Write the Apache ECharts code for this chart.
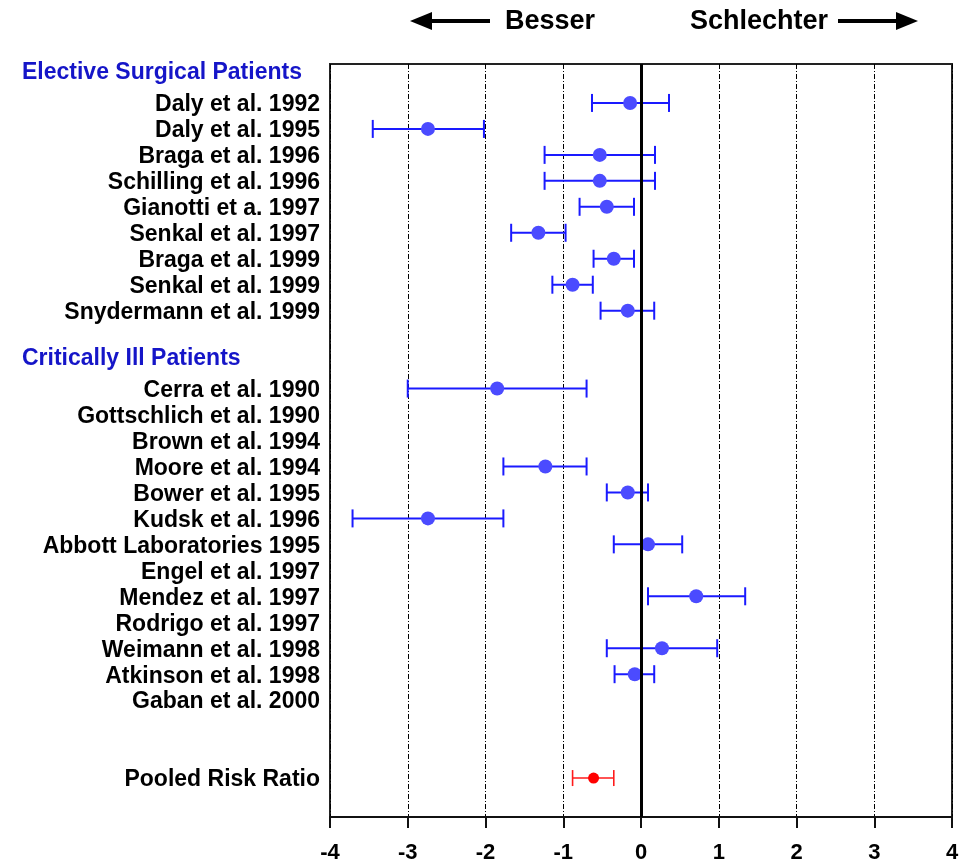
<!DOCTYPE html>
<html>
<head>
<meta charset="utf-8">
<script src="https://cdn.jsdelivr.net/npm/echarts@6/dist/echarts.min.js"></script>
<style>
  html, body { margin: 0; padding: 0; background: #ffffff; }
  #chart { width: 963px; height: 864px; }
</style>
</head>
<body>
<div id="chart"></div>
<script>
// Forest plot rows, top to bottom (blank strings are spacer rows)
const rowLabels = [
  'Elective Surgical Patients',
  'Daly et al. 1992', 'Daly et al. 1995', 'Braga et al. 1996', 'Schilling et al. 1996',
  'Gianotti et a. 1997', 'Senkal et al. 1997', 'Braga et al. 1999', 'Senkal et al. 1999',
  'Snydermann et al. 1999',
  '',
  'Critically Ill Patients',
  'Cerra et al. 1990', 'Gottschlich et al. 1990', 'Brown et al. 1994', 'Moore et al. 1994',
  'Bower et al. 1995', 'Kudsk et al. 1996', 'Abbott Laboratories 1995', 'Engel et al. 1997',
  'Mendez et al. 1997', 'Rodrigo et al. 1997', 'Weimann et al. 1998', 'Atkinson et al. 1998',
  'Gaban et al. 2000',
  '', '',
  'Pooled Risk Ratio',
  ''
];
const groupHeaders = ['Elective Surgical Patients', 'Critically Ill Patients'];

// Per-row log risk ratio and confidence limits (null = no estimate shown)
const studyEstimate = [
  null,
  -0.14, -2.74, -0.53, -0.53, -0.44, -1.32, -0.35, -0.88, -0.17,
  null, null,
  -1.85, null, null, -1.23, -0.17, -2.74, 0.09, null, 0.71, null, 0.27, -0.08, null,
  null, null, null, null
];
const studyLower = [
  null,
  -0.63, -3.45, -1.24, -1.24, -0.79, -1.67, -0.61, -1.14, -0.52,
  null, null,
  -3.00, null, null, -1.77, -0.44, -3.71, -0.35, null, 0.09, null, -0.44, -0.34, null,
  null, null, null, null
];
const studyUpper = [
  null,
  0.36, -2.02, 0.18, 0.18, -0.09, -0.97, -0.09, -0.62, 0.17,
  null, null,
  -0.70, null, null, -0.70, 0.09, -1.77, 0.53, null, 1.34, null, 0.98, 0.17, null,
  null, null, null, null
];

// Pooled estimate
const pooledRow = 'Pooled Risk Ratio';
const pooledEstimate = -0.61;
const pooledLower = -0.88;
const pooledUpper = -0.35;

// Axis ticks
const xTicks = [-4, -3, -2, -1, 0, 1, 2, 3, 4];

const studyBars = [];
const studyPoints = [];
rowLabels.forEach(function (name, i) {
  if (studyEstimate[i] !== null) {
    studyBars.push([studyLower[i], studyUpper[i], i]);
    studyPoints.push([studyEstimate[i], i]);
  }
});
const pooledIndex = rowLabels.indexOf(pooledRow);
const pooledBars = [[pooledLower, pooledUpper, pooledIndex]];
const pooledPoints = [[pooledEstimate, pooledIndex]];

function errorBar(color, width, cap) {
  return function (params, api) {
    const a = api.coord([api.value(0), api.value(2)]);
    const b = api.coord([api.value(1), api.value(2)]);
    const style = { stroke: color, lineWidth: width };
    return {
      type: 'group',
      children: [
        { type: 'line', shape: { x1: a[0], y1: a[1], x2: b[0], y2: b[1] }, style: style },
        { type: 'line', shape: { x1: a[0], y1: a[1] - cap, x2: a[0], y2: a[1] + cap }, style: style },
        { type: 'line', shape: { x1: b[0], y1: b[1] - cap, x2: b[0], y2: b[1] + cap }, style: style }
      ]
    };
  };
}

const FONT = 'Liberation Sans, Arial, Helvetica, sans-serif';
const chart = echarts.init(document.getElementById('chart'), null, { renderer: 'canvas' });

chart.setOption({
  animation: false,
  backgroundColor: '#ffffff',
  grid: {
    left: 330, right: 11, top: 64, bottom: 46,
    show: true, borderColor: '#222222', borderWidth: 2, backgroundColor: 'transparent'
  },
  xAxis: {
    type: 'value',
    min: xTicks[0], max: xTicks[xTicks.length - 1], interval: 1,
    axisLine: { show: true, onZero: false, lineStyle: { color: '#111111', width: 2 } },
    axisTick: { show: true, length: 11, lineStyle: { color: '#111111', width: 2 } },
    axisLabel: {
      margin: 25, color: '#000000', fontFamily: FONT, fontWeight: 'bold', fontSize: 22,
      formatter: function (v) { return xTicks.indexOf(v) >= 0 ? String(v) : ''; }
    },
    splitLine: { show: true, lineStyle: { color: '#000000', width: 1, type: [5, 2, 1, 2] } }
  },
  yAxis: {
    type: 'category',
    inverse: true,
    data: rowLabels,
    axisLine: { show: false },
    axisTick: { show: false },
    splitLine: { show: false },
    axisLabel: {
      interval: 0, margin: 10, color: '#000000', padding: [4, 0, 0, 0],
      fontFamily: FONT, fontWeight: 'bold', fontSize: 23,
      formatter: function (v) {
        return groupHeaders.indexOf(v) >= 0 ? '{h|' + v + '}' : v;
      },
      rich: {
        h: {
          color: '#1515c8', fontFamily: FONT, fontWeight: 'bold', fontSize: 23,
          width: 298, align: 'left', padding: [0, 0, 12, 0]
        }
      }
    }
  },
  series: [
    {
      // reference line at zero
      type: 'line', data: [], silent: true,
      markLine: {
        silent: true, symbol: 'none', label: { show: false },
        lineStyle: { color: '#000000', width: 3, type: 'solid' },
        data: [{ xAxis: 0 }]
      }
    },
    {
      type: 'custom', renderItem: errorBar('#1a1aff', 2, 9),
      encode: { x: [0, 1], y: 2 }, data: studyBars, z: 3
    },
    {
      type: 'scatter', data: studyPoints, symbol: 'circle', symbolSize: 14,
      itemStyle: { color: '#4b4bff', opacity: 1 }, z: 4
    },
    {
      type: 'custom', renderItem: errorBar('#ff1a1a', 1.6, 8),
      encode: { x: [0, 1], y: 2 }, data: pooledBars, z: 3
    },
    {
      type: 'scatter', data: pooledPoints, symbol: 'circle', symbolSize: 11,
      itemStyle: { color: '#ff0000', opacity: 1 }, z: 4
    }
  ],
  graphic: [
    // "better" arrow pointing left
    { type: 'polygon', shape: { points: [[410, 21], [432, 12], [432, 30]] }, style: { fill: '#000000' } },
    { type: 'line', shape: { x1: 428, y1: 21, x2: 490, y2: 21 }, style: { stroke: '#000000', lineWidth: 4 } },
    { type: 'text', left: 505, top: 8,
      style: { text: 'Besser', fill: '#000000', font: 'bold 27px ' + FONT } },
    // "worse" arrow pointing right
    { type: 'text', left: 690, top: 8,
      style: { text: 'Schlechter', fill: '#000000', font: 'bold 27px ' + FONT } },
    { type: 'line', shape: { x1: 838, y1: 21, x2: 900, y2: 21 }, style: { stroke: '#000000', lineWidth: 4 } },
    { type: 'polygon', shape: { points: [[918, 21], [896, 12], [896, 30]] }, style: { fill: '#000000' } }
  ]
});
</script>
</body>
</html>
